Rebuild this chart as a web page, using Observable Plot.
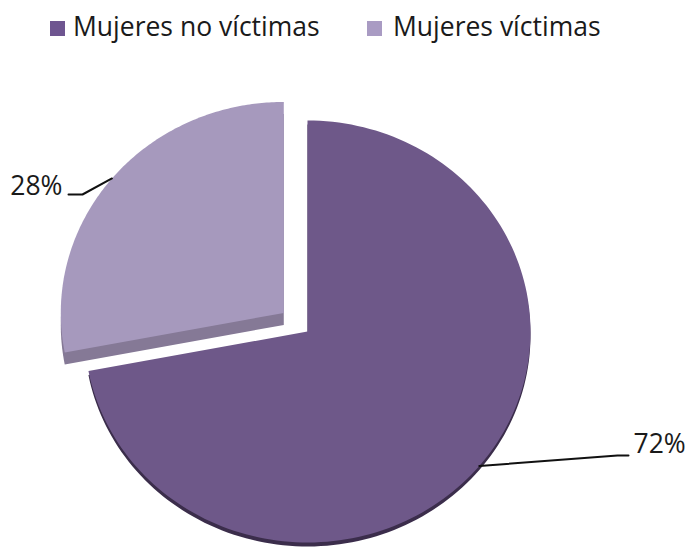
<!DOCTYPE html>
<html><head><meta charset="utf-8">
<script src="https://cdn.jsdelivr.net/npm/d3@7"></script>
<script src="https://cdn.jsdelivr.net/npm/@observablehq/plot@0.6"></script>
<style>
body{margin:0;background:#fff;font-family:"Open Sans",Lato,sans-serif;color:#1a1a1a;}
#legend{position:relative;height:60px;width:688px;}
.sw{position:absolute;top:21px;width:15px;height:15px;}
.lt{position:absolute;top:13px;font-size:26.5px;line-height:26.5px;white-space:nowrap;}
#chart svg{display:block;}
</style></head><body>
<div id="legend"></div>
<div id="chart"></div>
<script>
// ---- data ----
const categories = ["Mujeres no víctimas", "Mujeres víctimas"];
const values = [72, 28];
const pctLabels = ["72%", "28%"];

// ---- styles / layout ----
const faceColors = ["#6e5889", "#a699bd"];
const sideColors = ["#3b2d4b", "#857996"];
const legendColors = ["#6e5590", "#a99bc3"];
const sideDepth = [4, 12];
const explode = [0, 0.138];
const W = 688, H = 491;
const CX = 307, CY = 271, RX = 223, RY = 211;
const legendSwatchX = [50, 367], legendTextX = [73, 393];
const FONT = "'Open Sans', Lato, sans-serif", FS = 26.5;
// leader elbow / end and label anchor, in svg pixels
const leaderLayout = [
  {elbow: [617, 395], end: [628, 395], text: [633, 384], anchor: "start"},
  {elbow: [82, 134], end: [68, 134], text: [62, 126], anchor: "end"}
];

// legend
const leg = document.getElementById("legend");
categories.forEach((c, i) => {
  const s = document.createElement("div");
  s.className = "sw"; s.style.left = legendSwatchX[i] + "px"; s.style.background = legendColors[i];
  leg.appendChild(s);
  const t = document.createElement("div");
  t.className = "lt"; t.style.left = legendTextX[i] + "px"; t.textContent = c;
  leg.appendChild(t);
});

// pie geometry in data units (radius = 1)
const arcs = d3.pie().sort(null).value(d => d)(values);
const px2x = p => (p - CX) / RX, px2y = p => (CY - p) / RY;
const slices = [], leaders = [], labels = [];
arcs.forEach((a, i) => {
  const mid = (a.startAngle + a.endAngle) / 2;
  const ox = explode[i] * Math.sin(mid), oy = explode[i] * Math.cos(mid);
  const N = 160;
  slices.push({k: i, x: ox, y: oy});
  for (let j = 0; j <= N; j++) {
    const t = a.startAngle + (a.endAngle - a.startAngle) * j / N;
    slices.push({k: i, x: ox + Math.sin(t), y: oy + Math.cos(t)});
  }
  slices.push({k: i, x: ox, y: oy});
  const L = leaderLayout[i];
  leaders.push({k: i, x: ox + Math.sin(mid), y: oy + Math.cos(mid)});
  leaders.push({k: i, x: px2x(L.elbow[0]), y: px2y(L.elbow[1])});
  leaders.push({k: i, x: px2x(L.end[0]), y: px2y(L.end[1])});
  labels.push({k: i, label: pctLabels[i], x: px2x(L.text[0]), y: px2y(L.text[1]), anchor: L.anchor});
});

const marks = [];
[0, 1].forEach(i => {
  const d = slices.filter(p => p.k === i);
  marks.push(Plot.line(d, {x: "x", y: "y", fill: sideColors[i], stroke: "none", dy: sideDepth[i]}));
  marks.push(Plot.line(d, {x: "x", y: "y", fill: faceColors[i], stroke: "none"}));
});
marks.push(Plot.line(leaders, {x: "x", y: "y", z: "k", stroke: "#111", strokeWidth: 2}));
labels.forEach(l => {
  marks.push(Plot.text([l], {x: "x", y: "y", text: "label", textAnchor: l.anchor, fontSize: FS, fontFamily: FONT, fill: "#1a1a1a"}));
});

const chart = Plot.plot({
  width: W, height: H,
  margin: 0,
  x: {domain: [-1, 1], range: [CX - RX, CX + RX], axis: null},
  y: {domain: [-1, 1], range: [CY + RY, CY - RY], axis: null},
  style: {background: "#fff", overflow: "visible"},
  marks
});
document.getElementById("chart").appendChild(chart);
</script>
</body></html>
